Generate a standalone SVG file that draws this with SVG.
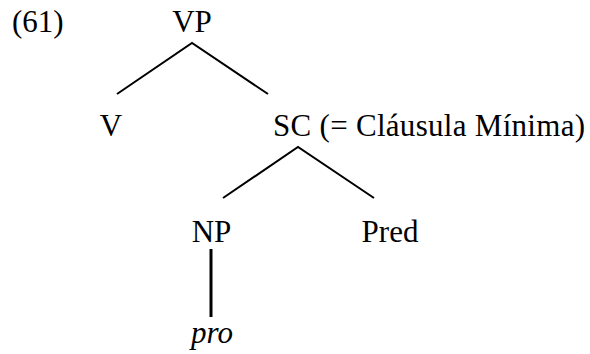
<svg xmlns="http://www.w3.org/2000/svg" width="590" height="354" viewBox="0 0 590 354">
<defs>
<style>
.e{stroke:#000;stroke-width:2;fill:none}
.t{stroke:#000;stroke-width:3;fill:none}
</style>
</defs>
<rect width="590" height="354" fill="#fff"/>
<g font-family="Liberation Serif, Times New Roman, serif" font-size="31" fill="#000">
<text x="12" y="32">(61)</text>
<g id="edges">
<polyline class="e" points="117,94 192,43 268,94"/>
<polyline class="e" points="223,198 298,147 374,198"/>
<line class="t" x1="211" y1="249" x2="211" y2="317"/>
</g>
<g id="VP"><text x="192" y="32" text-anchor="middle">VP</text></g>
<g id="V"><text x="111" y="136" text-anchor="middle">V</text></g>
<g id="SC"><text x="273" y="136" textLength="312" lengthAdjust="spacing">SC (= Cláusula Mínima)</text></g>
<g id="NP"><text x="211.5" y="242" text-anchor="middle">NP</text></g>
<g id="Pred"><text x="390" y="242" text-anchor="middle">Pred</text></g>
<g id="pro"><text x="212" y="343" text-anchor="middle" font-style="italic">pro</text></g>
</g>
</svg>
